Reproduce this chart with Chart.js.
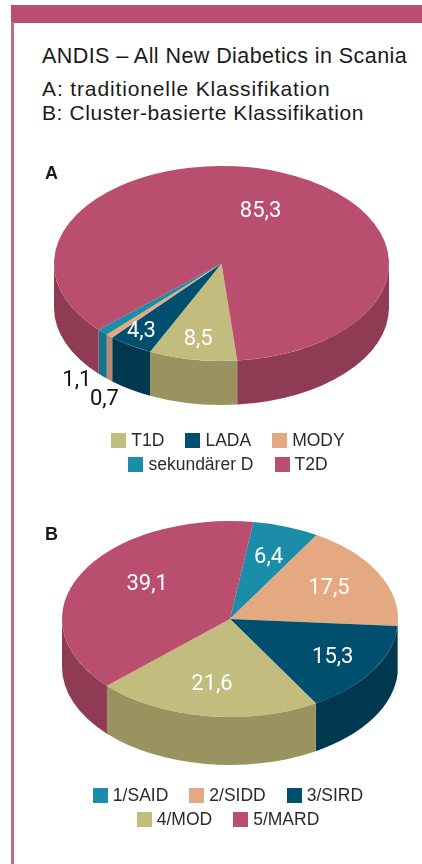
<!DOCTYPE html>
<html lang="de"><head><meta charset="utf-8"><title>ANDIS</title>
<script src="https://cdn.jsdelivr.net/npm/chart.js@4"></script>
<style>
html,body{margin:0;padding:0;background:#fff;width:422px;height:864px;overflow:hidden}
body{position:relative;font-family:"Liberation Sans",Arial,sans-serif;color:#1a1a1a}
#bar{position:absolute;left:11px;top:5px;width:411px;height:17.5px;background:#b94e6f}
#rule{position:absolute;left:11px;top:22px;width:2.5px;height:842px;background:#c4688a}
.t{position:absolute;white-space:nowrap;line-height:1}
canvas{position:absolute;left:0}
.legend{position:absolute;left:0;width:456px;display:flex;justify-content:center;font-size:17.5px;color:#2b2b2b;height:20px;align-items:center}
.legend span.i{display:flex;align-items:center;margin:0 10.5px}
.legend b{display:block;width:15px;height:15px;margin-right:5px;flex:none}
</style></head><body>
<div id="bar"></div><div id="rule"></div>
<div class="t" style="left:42px;top:46px;font-size:21.5px;letter-spacing:.43px">ANDIS – All New Diabetics in Scania</div>
<div class="t" style="left:42px;top:78px;font-size:21px;letter-spacing:.87px">A: traditionelle Klassifikation</div>
<div class="t" style="left:42px;top:102px;font-size:21px;letter-spacing:.58px">B: Cluster-basierte Klassifikation</div>
<div class="t" style="left:45px;top:164px;font-size:18px;font-weight:bold;z-index:2">A</div>
<div class="t" style="left:45px;top:525px;font-size:18px;font-weight:bold;z-index:2">B</div>
<canvas id="pieA" width="443" height="340" style="top:94px"></canvas>
<canvas id="pieB" width="460" height="340" style="top:449px"></canvas>
<div class="legend" id="legA1" style="top:430px"></div>
<div class="legend" id="legA2" style="top:454px"></div>
<div class="legend" id="legB1" style="top:785px"></div>
<div class="legend" id="legB2" style="top:809px"></div>
<script>
const categoriesA = ['T1D','LADA','MODY','sekundärer D','T2D'];
const valuesA = [8.5,4.3,0.7,1.1,85.3];
const colorsA = ['#c2bd7e','#014f6e','#e5a982','#1b8da8','#b94e6f'];
const sidesA = ['#99945f','#00384f','#b8896a','#18738a','#8f3b54'];
const labelColorsA = ['#fff','#fff','#111','#111','#fff'];
const labelNudgeA = [[-4,12],[-19,13],[-42,87],[-65,71],[-1,9]];

const categoriesB = ['1/SAID','2/SIDD','3/SIRD','4/MOD','5/MARD'];
const valuesB = [6.4,17.5,15.3,21.6,39.1];
const colorsB = ['#1b8da8','#e5a982','#014f6e','#c2bd7e','#b94e6f'];
const sidesB = ['#18738a','#b8896a','#00384f','#99945f','#8f3b54'];
const labelColorsB = ['#fff','#fff','#fff','#fff','#fff'];
const labelNudgeB = [[1,0],[-1,0],[7,4],[-2,1],[17,-4]];

const fmt = v => v.toLocaleString('de-DE',{minimumFractionDigits:1,maximumFractionDigits:1});

const pie3d = {
  id:'pie3d',
  beforeDatasetsDraw(chart,args,o){
    const ctx=chart.ctx, arcs=chart.getDatasetMeta(0).data;
    const a0=arcs[0], k=o.ry/a0.outerRadius, cx=a0.x, cy=o.cy, rx=a0.outerRadius, ry=o.ry;
    ctx.save();
    arcs.forEach((a,i)=>{
      for(let w=-1;w<=2;w++){
        const lo=Math.max(a.startAngle,2*Math.PI*w), hi=Math.min(a.endAngle,2*Math.PI*w+Math.PI);
        if(hi<=lo) continue;
        ctx.beginPath();
        ctx.ellipse(cx,cy,rx,ry,0,lo,hi);
        ctx.ellipse(cx,cy+o.depth,rx,ry,0,hi,lo,true);
        ctx.closePath();
        ctx.fillStyle=o.sides[i];
        ctx.fill();
      }
    });
    ctx.restore();
    ctx.save();
    ctx.translate(0,cy);ctx.scale(1,k);ctx.translate(0,-a0.y);
  },
  afterDatasetsDraw(chart,args,o){
    const ctx=chart.ctx, arcs=chart.getDatasetMeta(0).data, vals=chart.data.datasets[0].data;
    ctx.restore();
    ctx.save();
    ctx.textAlign='center';ctx.textBaseline='middle';
    ctx.font=o.labelFont;
    arcs.forEach((a,i)=>{
      const m=(a.startAngle+a.endAngle)/2;
      const x=a.x+Math.cos(m)*a.outerRadius*0.67+o.nudge[i][0];
      const y=o.cy+Math.sin(m)*o.ry*0.67+o.nudge[i][1];
      ctx.fillStyle=o.labelColors[i];
      ctx.fillText(fmt(vals[i]),x,y);
    });
    ctx.restore();
  }
};

function makePie(id,cats,vals,cols,rotation,radius,opts){
  return new Chart(document.getElementById(id),{
    type:'pie',
    data:{labels:cats,datasets:[{data:vals,backgroundColor:cols,borderWidth:0,clip:false}]},
    options:{responsive:false,animation:false,rotation:rotation,radius:radius,
      layout:{padding:0},
      plugins:{legend:{display:false},tooltip:{enabled:false},pie3d:opts}},
    plugins:[pie3d]
  });
}
makePie('pieA',categoriesA,valuesA,colorsA,174.6,167.5,
  {cy:169.5,ry:97.5,depth:44,sides:sidesA,labelColors:labelColorsA,nudge:labelNudgeA,labelFont:'22px Roboto'});
makePie('pieB',categoriesB,valuesB,colorsB,8,168,
  {cy:170,ry:98,depth:48,sides:sidesB,labelColors:labelColorsB,nudge:labelNudgeB,labelFont:'22px Roboto'});

function legend(id,cats,cols,from,to){
  const el=document.getElementById(id);
  for(let i=from;i<to;i++){
    const s=document.createElement('span');s.className='i';
    const b=document.createElement('b');b.style.background=cols[i];
    s.appendChild(b);s.appendChild(document.createTextNode(cats[i]));
    el.appendChild(s);
  }
}
legend('legA1',categoriesA,colorsA,0,3);
legend('legA2',categoriesA,colorsA,3,5);
legend('legB1',categoriesB,colorsB,0,3);
legend('legB2',categoriesB,colorsB,3,5);
</script>
</body></html>
